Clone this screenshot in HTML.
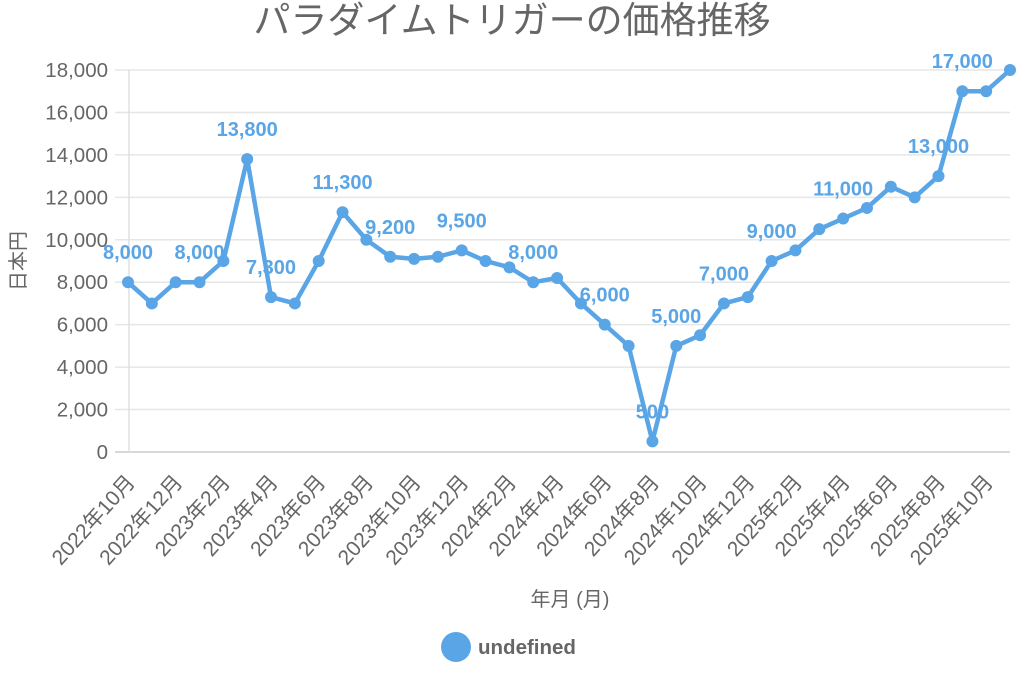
<!DOCTYPE html>
<html><head><meta charset="utf-8"><style>body{margin:0;background:#fff}svg{display:block;font-family:"Liberation Sans","Noto Sans CJK JP",sans-serif}</style></head>
<body>
<svg width="1024" height="676" xmlns="http://www.w3.org/2000/svg">
<text x="512" y="33" text-anchor="middle" font-size="37" fill="#666">パラダイムトリガーの価格推移</text>
<g id="g"></g>
<text transform="translate(25,261) rotate(-90)" text-anchor="middle" font-size="20" fill="#666">日本円</text>
<text x="570" y="606" text-anchor="middle" font-size="20" fill="#666">年月 (月)</text>
<circle cx="456" cy="647" r="15" fill="#5aa5e6"/>
<text x="478" y="654" font-size="20.5" font-weight="bold" fill="#666">undefined</text>
</svg>
<script>
const g=document.getElementById('g');let s='';
const vals=[8000,7000,8000,8000,9000,13800,7300,7000,9000,11300,10000,9200,9100,9200,9500,9000,8700,8000,8200,7000,6000,5000,500,5000,5500,7000,7300,9000,9500,10500,11000,11500,12500,12000,13000,17000,17000,18000];
const x0=128,dx=(1010-128)/37,y0=452,k=382/18000;
const X=i=>x0+i*dx,Y=v=>y0-v*k;
for(let v=0;v<=18000;v+=2000){const y=Y(v);s+=`<line x1="115" x2="1010" y1="${y}" y2="${y}" stroke="${v?'#e6e6e6':'#ccc'}" stroke-width="1.5"/><text x="108" y="${y+7}" text-anchor="end" font-size="20.5" fill="#666">${v.toLocaleString('en-US')}</text>`;}
s+=`<line x1="129" x2="129" y1="70" y2="452" stroke="#e0e0e0" stroke-width="1.5"/>`;
for(let i=0;i<38;i+=2){const yr=2022+Math.floor((9+i)/12),m=(9+i)%12+1;const x=X(i);s+=`<text transform="translate(${x+8},483) rotate(-48)" text-anchor="end" font-size="21" fill="#666">${yr}年${m}月</text>`;}
s+=`<polyline fill="none" stroke="#5aa5e6" stroke-width="4.5" stroke-linejoin="round" points="${vals.map((v,i)=>X(i)+','+Y(v)).join(' ')}"/>`;
vals.forEach((v,i)=>s+=`<circle cx="${X(i)}" cy="${Y(v)}" r="6" fill="#5aa5e6"/>`);
const lab=[0,3,5,6,9,11,14,17,20,22,23,25,27,30,34,35];
lab.forEach(i=>s+=`<text x="${X(i)}" y="${Y(vals[i])-23}" text-anchor="middle" font-size="20" font-weight="bold" fill="#5aa5e6">${vals[i].toLocaleString('en-US')}</text>`);
g.innerHTML=s;
</script>
</body></html>
